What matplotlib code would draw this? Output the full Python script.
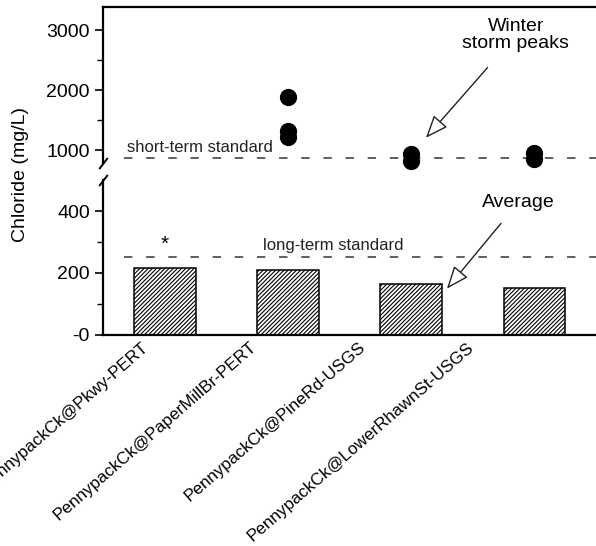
import matplotlib.pyplot as plt
import numpy as np

plt.rcParams['font.family'] = ['Liberation Sans', 'DejaVu Sans']
plt.rcParams['hatch.linewidth'] = 0.8

# data
sites = ['PennypackCk@Pkwy-PERT', 'PennypackCk@PaperMillBr-PERT',
         'PennypackCk@PineRd-USGS', 'PennypackCk@LowerRhawnSt-USGS']
average = [217, 209, 163, 150]
# winter storm peaks (site index, value)
peak_site = [1, 1, 1, 2, 2, 3, 3]
peak_val = [1890, 1330, 1220, 940, 830, 950, 850]
short_term = 870
long_term = 250

x = np.arange(len(sites))
fs = 14

fig = plt.figure(figsize=(5.96, 5.46), dpi=100)
ax_top = fig.add_axes([0.173, 0.7015, 0.827, 0.2855])
ax_bot = fig.add_axes([0.173, 0.387, 0.827, 0.283])

for ax in (ax_top, ax_bot):
    ax.set_xlim(-0.5, 3.5)
    ax.spines['right'].set_visible(False)
    ax.spines['left'].set_linewidth(1.6)
    ax.tick_params(axis='y', labelsize=fs, length=6, width=1.2, direction='out')
    ax.tick_params(axis='y', which='minor', length=4, width=1.0)
    ax.set_xticks([])

# upper panel: storm peaks
ax_top.spines['bottom'].set_visible(False)
ax_top.spines['top'].set_linewidth(1.6)
ax_top.set_ylim(790, 3390)
ax_top.set_yticks([1000, 2000, 3000])
ax_top.set_yticks([1500, 2500], minor=True)
ax_top.scatter(peak_site, peak_val, s=130, color='black', zorder=3, clip_on=False)
ax_top.hlines(short_term, -0.33, 3.5, colors='#333333', linewidth=1.1,
              linestyles=(0, (5.5, 9)))
ax_top.text(-0.31, short_term + 50, 'short-term standard', fontsize=12,
            va='bottom', ha='left', color='#222222')
ax_top.annotate('Winter\nstorm peaks', xy=(2.12, 1210), xytext=(2.85, 2920),
                fontsize=fs, ha='center', va='center', linespacing=1.0,
                arrowprops=dict(arrowstyle='-|>,head_length=1.0,head_width=0.4',
                                facecolor='white', edgecolor='#222222',
                                linewidth=1.0, shrinkA=12, shrinkB=0))

# lower panel: averages
ax_bot.spines['top'].set_visible(False)
ax_bot.spines['bottom'].set_linewidth(1.6)
ax_bot.set_ylim(0, 500)
ax_bot.set_yticks([0, 200, 400])
ax_bot.set_yticklabels(['-0', '200', '400'])
ax_bot.set_yticks([100, 300], minor=True)
ax_bot.bar(x, average, width=0.5, color='white', edgecolor='black',
           linewidth=1.1, hatch='////////', zorder=2)
ax_bot.hlines(long_term, -0.33, 3.5, colors='#333333', linewidth=1.1,
              linestyles=(0, (5.5, 9)))
ax_bot.text(0.8, long_term + 14, 'long-term standard', fontsize=12,
            va='bottom', ha='left', color='#222222')
ax_bot.text(x[0], 292, '*', fontsize=15, ha='center', va='center')
ax_bot.annotate('Average', xy=(2.29, 149), xytext=(2.87, 428),
                fontsize=fs, ha='center', va='center',
                arrowprops=dict(arrowstyle='-|>,head_length=1.0,head_width=0.4',
                                facecolor='white', edgecolor='#222222',
                                linewidth=1.0, shrinkA=9, shrinkB=0))

# site labels sit left of the bars, drifting with position
for i, name in enumerate(sites):
    ax_bot.text(i * 0.88 - 0.19, -0.03, name, transform=ax_bot.get_xaxis_transform(),
                rotation=41, rotation_mode='anchor', ha='right', va='top',
                fontsize=12.3)

# break marks on the left spine
kw = dict(marker=[(-1, -1.3), (1, 1.3)], markersize=8, linestyle='none',
          color='black', mec='black', mew=1.4, clip_on=False)
ax_top.plot([0], [0], transform=ax_top.transAxes, **kw)
ax_bot.plot([0], [1], transform=ax_bot.transAxes, **kw)

fig.text(0.034, 0.68, 'Chloride (mg/L)', rotation=90, fontsize=fs,
         ha='center', va='center')

plt.savefig('out.png', dpi=100)
